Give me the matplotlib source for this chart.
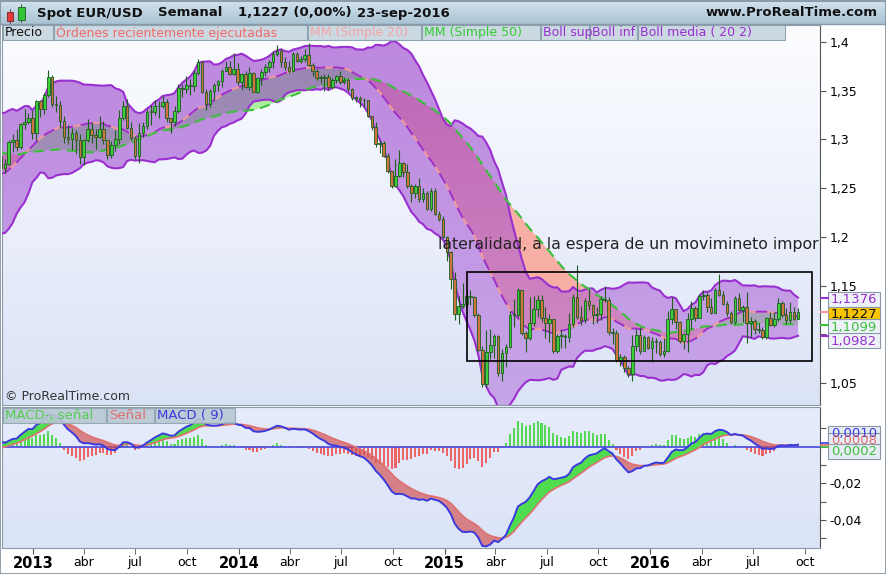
import numpy as np
import pandas as pd
import matplotlib
matplotlib.use("Agg")
import matplotlib.pyplot as plt
import matplotlib.dates as mdates
from matplotlib.colors import LinearSegmentedColormap
from matplotlib.patches import Rectangle

plt.rcParams['font.family'] = ['DejaVu Sans']

# weekly EUR/USD closes before the visible window (only feed the indicators)
warmup_close = [1.339, 1.338, 1.304, 1.305, 1.296,
                1.272, 1.268, 1.293, 1.321, 1.316, 1.319, 1.324, 1.345, 1.320, 1.311, 1.318, 1.323, 1.334,
                1.308, 1.307, 1.322, 1.324, 1.308, 1.292, 1.278, 1.252, 1.243, 1.252, 1.264, 1.257, 1.266,
                1.229, 1.224, 1.216, 1.229, 1.239, 1.229, 1.233, 1.252, 1.258, 1.282, 1.313, 1.298, 1.286,
                1.303, 1.296, 1.302, 1.294, 1.283]

# visible weeks, nov 2012 -> 23 sep 2016
close = [1.271, 1.275, 1.297, 1.299, 1.292, 1.316, 1.318, 1.322,
         # 2013
         1.307, 1.339, 1.331, 1.346, 1.364, 1.336, 1.335, 1.319, 1.302, 1.300, 1.307, 1.299, 1.282,
         1.299, 1.311, 1.305, 1.303, 1.311, 1.299, 1.284, 1.294, 1.300, 1.322, 1.334, 1.312, 1.301,
         1.283, 1.307, 1.314, 1.328, 1.328, 1.334, 1.334, 1.338, 1.322, 1.318, 1.329, 1.353, 1.352,
         1.356, 1.355, 1.368, 1.380, 1.349, 1.336, 1.350, 1.356, 1.360, 1.370, 1.374, 1.367, 1.372,
         # 2014
         1.359, 1.367, 1.354, 1.368, 1.349, 1.363, 1.369, 1.374, 1.380, 1.388, 1.391, 1.379, 1.374,
         1.370, 1.388, 1.381, 1.383, 1.387, 1.376, 1.370, 1.363, 1.363, 1.364, 1.354, 1.361, 1.365,
         1.359, 1.361, 1.352, 1.343, 1.343, 1.341, 1.340, 1.324, 1.313, 1.295, 1.296, 1.283, 1.268,
         1.252, 1.262, 1.276, 1.267, 1.252, 1.245, 1.252, 1.239, 1.245, 1.229, 1.247, 1.223, 1.218,
         # 2015
         1.200, 1.184, 1.157, 1.121, 1.129, 1.131, 1.139, 1.138, 1.120, 1.084, 1.049, 1.082, 1.089,
         1.098, 1.060, 1.081, 1.087, 1.120, 1.120, 1.145, 1.101, 1.096, 1.111, 1.126, 1.135, 1.117,
         1.111, 1.116, 1.083, 1.098, 1.098, 1.097, 1.110, 1.138, 1.118, 1.115, 1.134, 1.130, 1.120,
         1.121, 1.136, 1.135, 1.102, 1.101, 1.074, 1.077, 1.065, 1.059, 1.088, 1.099, 1.083, 1.097,
         # 2016
         1.086, 1.093, 1.092, 1.080, 1.083, 1.116, 1.126, 1.113, 1.093, 1.100, 1.116, 1.127, 1.117,
         1.139, 1.140, 1.128, 1.122, 1.145, 1.140, 1.131, 1.122, 1.113, 1.137, 1.125, 1.128, 1.112,
         1.114, 1.105, 1.104, 1.097, 1.117, 1.109, 1.116, 1.132, 1.120, 1.115, 1.123, 1.116, 1.1227]

high = [1.285, 1.280, 1.299, 1.306, 1.311, 1.317, 1.331, 1.327,
        1.330, 1.340, 1.340, 1.348, 1.371, 1.366, 1.345, 1.339, 1.324, 1.315, 1.312, 1.310, 1.306,
        1.300, 1.321, 1.318, 1.311, 1.324, 1.319, 1.299, 1.298, 1.310, 1.330, 1.339, 1.342, 1.318,
        1.304, 1.317, 1.318, 1.331, 1.335, 1.340, 1.339, 1.345, 1.342, 1.322, 1.334, 1.357, 1.357,
        1.365, 1.362, 1.371, 1.383, 1.381, 1.352, 1.352, 1.358, 1.361, 1.372, 1.381, 1.381, 1.389,
        1.378, 1.368, 1.370, 1.374, 1.369, 1.364, 1.372, 1.377, 1.382, 1.391, 1.397, 1.393, 1.385,
        1.381, 1.390, 1.390, 1.386, 1.393, 1.399, 1.378, 1.372, 1.366, 1.367, 1.367, 1.363, 1.366,
        1.370, 1.364, 1.363, 1.353, 1.345, 1.345, 1.343, 1.340, 1.324, 1.318, 1.299, 1.298, 1.286,
        1.268, 1.280, 1.289, 1.277, 1.275, 1.254, 1.254, 1.260, 1.250, 1.247, 1.250, 1.250, 1.226,
        1.221, 1.201, 1.185, 1.164, 1.139, 1.153, 1.145, 1.145, 1.139, 1.122, 1.088, 1.104, 1.105,
        1.100, 1.099, 1.085, 1.090, 1.124, 1.136, 1.147, 1.145, 1.103, 1.138, 1.139, 1.140, 1.140,
        1.128, 1.121, 1.116, 1.100, 1.104, 1.100, 1.122, 1.141, 1.171, 1.129, 1.137, 1.146, 1.131,
        1.128, 1.139, 1.149, 1.138, 1.106, 1.104, 1.080, 1.079, 1.067, 1.099, 1.105, 1.107, 1.099,
        1.098, 1.097, 1.096, 1.094, 1.096, 1.124, 1.138, 1.126, 1.114, 1.101, 1.122, 1.134, 1.129,
        1.141, 1.145, 1.143, 1.137, 1.147, 1.162, 1.144, 1.134, 1.124, 1.139, 1.142, 1.130, 1.143,
        1.118, 1.116, 1.112, 1.107, 1.118, 1.123, 1.123, 1.137, 1.134, 1.127, 1.133, 1.128, 1.127]

low = [1.268, 1.266, 1.274, 1.287, 1.288, 1.290, 1.311, 1.316,
       1.300, 1.299, 1.323, 1.326, 1.344, 1.333, 1.328, 1.312, 1.296, 1.295, 1.289, 1.285, 1.275,
       1.274, 1.297, 1.296, 1.290, 1.301, 1.295, 1.280, 1.281, 1.288, 1.295, 1.320, 1.311, 1.299,
       1.280, 1.276, 1.302, 1.311, 1.315, 1.325, 1.322, 1.332, 1.318, 1.307, 1.314, 1.327, 1.344,
       1.348, 1.346, 1.350, 1.366, 1.348, 1.330, 1.333, 1.341, 1.350, 1.354, 1.370, 1.366, 1.366,
       1.356, 1.351, 1.353, 1.351, 1.349, 1.348, 1.356, 1.365, 1.369, 1.373, 1.386, 1.374, 1.371,
       1.368, 1.370, 1.380, 1.378, 1.380, 1.375, 1.365, 1.361, 1.358, 1.350, 1.352, 1.352, 1.358,
       1.357, 1.357, 1.350, 1.341, 1.338, 1.333, 1.333, 1.323, 1.310, 1.292, 1.286, 1.282, 1.266,
       1.250, 1.251, 1.261, 1.261, 1.250, 1.236, 1.240, 1.236, 1.236, 1.228, 1.226, 1.222, 1.216,
       1.199, 1.175, 1.146, 1.115, 1.110, 1.127, 1.127, 1.130, 1.118, 1.083, 1.046, 1.046, 1.075,
       1.076, 1.057, 1.052, 1.066, 1.086, 1.107, 1.118, 1.099, 1.082, 1.094, 1.108, 1.118, 1.113,
       1.096, 1.092, 1.081, 1.081, 1.086, 1.086, 1.092, 1.107, 1.116, 1.109, 1.112, 1.125, 1.110,
       1.111, 1.115, 1.133, 1.099, 1.090, 1.071, 1.067, 1.061, 1.056, 1.052, 1.083, 1.080, 1.083,
       1.085, 1.071, 1.081, 1.078, 1.077, 1.082, 1.110, 1.105, 1.091, 1.085, 1.082, 1.105, 1.114,
       1.117, 1.135, 1.123, 1.121, 1.122, 1.139, 1.130, 1.119, 1.110, 1.110, 1.124, 1.113, 1.091,
       1.097, 1.100, 1.101, 1.095, 1.095, 1.108, 1.107, 1.114, 1.118, 1.110, 1.112, 1.115, 1.116]

year_ticks = ['2013-01-01', '2014-01-01', '2015-01-01', '2016-01-01']
year_labels = ['2013', '2014', '2015', '2016']
month_ticks = ['2013-04-01', '2013-07-01', '2013-10-01', '2014-04-01', '2014-07-01', '2014-10-01',
               '2015-04-01', '2015-07-01', '2015-10-01', '2016-04-01', '2016-07-01', '2016-10-01']
month_labels = ['abr', 'jul', 'oct'] * 4
price_ticks = [1.05, 1.1, 1.15, 1.2, 1.25, 1.3, 1.35, 1.4]
price_tick_labels = ['1,05', '', '1,15', '1,2', '1,25', '1,3', '1,35', '1,4']  # 1,1 sits under the value boxes
macd_ticks = [0.01, 0.0, -0.01, -0.02, -0.03, -0.04, -0.05]
macd_tick_labels = ['', '', '', '-0,02', '', '-0,04', '']

# last values shown in the boxes of the price axis
last_labels = ['1,1376', '1,1227', '1,1099', '1,0982']
last_values = [1.1376, 1.1227, 1.1099, 1.0982]
macd_last_labels = ['0,0010', '0,0008', '0,0002']

# comment box drawn on the chart (text is cut by the pane edge in the original)
box_start, box_end = '2015-02-09', '2016-10-14'
box_low, box_high = 1.0725, 1.1639
note = 'lateralidad, a la espera de un movimineto impor'

# ---- indicators ----
weeks = pd.date_range('2011-11-28', periods=len(warmup_close) + len(close), freq='W-MON')
allc = pd.Series(warmup_close + close, index=weeks)
ma20 = allc.rolling(20).mean()
sd20 = allc.rolling(20).std(ddof=0)
b_up = ma20 + 2 * sd20
b_dn = ma20 - 2 * sd20
ma50 = allc.rolling(50).mean()
macd = allc.ewm(span=12, adjust=False).mean() - allc.ewm(span=26, adjust=False).mean()
sig = macd.ewm(span=9, adjust=False).mean()
hist_scale = 1.3
hist = (macd - sig) * hist_scale

n0 = len(warmup_close)
xd = mdates.date2num(weeks[n0:])
c = np.array(close)
o = np.array([warmup_close[-1]] + close[:-1])
h = np.maximum(np.array(high), np.maximum(o, c))
l = np.minimum(np.array(low), np.minimum(o, c))
up_d, dn_d, m20_d, m50_d = [s.values[n0:] for s in (b_up, b_dn, ma20, ma50)]
macd_d, sig_d, hist_d = macd.values[n0:], sig.values[n0:], hist.values[n0:]

W, H = 887, 574
fig = plt.figure(figsize=(W / 100, H / 100), dpi=100, facecolor='white')

def fpos(x0, y0, x1, y1):
    return [x0 / W, 1 - y1 / H, (x1 - x0) / W, (y1 - y0) / H]

ax = fig.add_axes(fpos(2, 25, 820, 405))
ax2 = fig.add_axes(fpos(2, 407, 820, 548))
xlo, xhi = mdates.date2num(pd.Timestamp('2012-11-07')), mdates.date2num(pd.Timestamp('2016-10-28'))
ylo, yhi = 1.0273, 1.4175
mlo, mhi = -0.0552, 0.0215

grad = np.linspace(0, 1, 256).reshape(-1, 1)
ax.imshow(grad, extent=[0, 1, 0, 1], transform=ax.transAxes, aspect='auto', zorder=0,
          cmap=LinearSegmentedColormap.from_list('bg', ['#fcfdff', '#dbe3f6']))
ax2.imshow(grad, extent=[0, 1, 0, 1], transform=ax2.transAxes, aspect='auto', zorder=0,
           cmap=LinearSegmentedColormap.from_list('bg2', ['#e6ecfb', '#dbe3f7']))

# MA20 / MA50 cloud
ax.fill_between(xd, m20_d, m50_d, where=m20_d >= m50_d, interpolate=True, color='#aaf09e', lw=0, zorder=1)
ax.fill_between(xd, m20_d, m50_d, where=m20_d < m50_d, interpolate=True, color='#f7aea5', lw=0, zorder=1)

# bollinger fill, vertical gradient clipped to the band
poly = ax.fill_between(xd, up_d, dn_d, color='none', lw=0)
bpath = poly.get_paths()[0]
bim = ax.imshow(grad, extent=[xlo, xhi, ylo, yhi], origin='lower', aspect='auto', alpha=0.55, zorder=2,
                cmap=LinearSegmentedColormap.from_list('boll', ['#b673de', '#8a25c4']))
bim.set_clip_path(bpath, transform=ax.transData)

ax.plot(xd, up_d, color='#9a2fd0', lw=1.5, zorder=3)
ax.plot(xd, dn_d, color='#9a2fd0', lw=1.5, zorder=3)
ax.plot(xd, m20_d, color='#f29a9a', lw=1.4, zorder=3.5)
ax.plot(xd, m20_d, color='#9a2fd0', lw=1.4, dashes=(6, 4), zorder=3.6)
ax.plot(xd, m50_d, color='#3cbf3c', lw=1.5, dashes=(5, 3), zorder=3.6)

# candles
upc = c >= o
ax.vlines(xd, l, h, color='#1d5e1d', lw=0.8, zorder=4.5)
ax.bar(xd, np.maximum(np.abs(c - o), 0.0008), bottom=np.minimum(o, c), width=4.6,
       color=np.where(upc, '#3ccf3c', '#d0743f'), edgecolor='#1d5e1d', lw=0.6, zorder=5)

ax.add_patch(Rectangle((mdates.date2num(pd.Timestamp(box_start)), box_low),
                       mdates.date2num(pd.Timestamp(box_end)) - mdates.date2num(pd.Timestamp(box_start)),
                       box_high - box_low, fill=False, ec='black', lw=1.2, zorder=6))
ax.text(mdates.date2num(pd.Timestamp('2014-12-21')), 1.192, note, fontsize=11.3, color='#222222',
        ha='left', va='center', zorder=7, clip_on=True)

ax.set_xlim(xlo, xhi)
ax.set_ylim(ylo, yhi)
ax.set_xticks([])
ax.yaxis.tick_right()
ax.set_yticks(price_ticks)
ax.set_yticklabels(price_tick_labels)
ax.tick_params(axis='y', direction='out', length=4, pad=3, labelsize=9, color='#555555')

# MACD pane
ax2.axhline(0, color='#4646e0', lw=1.2, zorder=2)
ax2.bar(xd, hist_d, width=3.6, lw=0, antialiased=False,
        color=np.where(hist_d >= 0, '#55d855', '#ee6464'), zorder=1.5)
ax2.fill_between(xd, macd_d, sig_d, where=macd_d >= sig_d, interpolate=True, color='#4fdc4f', lw=0, zorder=2.5)
ax2.fill_between(xd, macd_d, sig_d, where=macd_d < sig_d, interpolate=True, color='#d24a4a', alpha=0.65,
                 lw=0, zorder=2.5)
ax2.plot(xd, sig_d, color='#e07070', lw=1.2, zorder=3)
ax2.plot(xd, macd_d, color='#3a3adf', lw=1.4, zorder=3.2)
ax2.set_xlim(xlo, xhi)
ax2.set_ylim(mlo, mhi)
ax2.yaxis.tick_right()
ax2.set_yticks(macd_ticks)
ax2.set_yticklabels(macd_tick_labels)
ax2.tick_params(axis='y', direction='out', length=4, pad=3, labelsize=9, color='#555555')
ax2.set_xticks(mdates.date2num(pd.to_datetime(year_ticks)))
ax2.set_xticklabels(year_labels, fontsize=10.5, fontweight='bold')
ax2.set_xticks(mdates.date2num(pd.to_datetime(month_ticks)), minor=True)
ax2.set_xticklabels(month_labels, minor=True, fontsize=9)
ax2.tick_params(axis='x', which='both', direction='out', length=4, pad=2, color='#555555')

for a in (ax, ax2):
    for s in a.spines.values():
        s.set_color('#8a9aa8')
    a.spines['right'].set_color('#555555')

# overlay in pixel coords for header, legends and value boxes
ov = fig.add_axes([0, 0, 1, 1], zorder=10)
ov.axis('off')
ov.imshow(grad, extent=(0, W, 24, 0), aspect='auto',
          cmap=LinearSegmentedColormap.from_list('hd', ['#d3e3ee', '#a9c3d4']))
ov.set_xlim(0, W)
ov.set_ylim(H, 0)
ov.plot([0, W], [24, 24], color='#8a9aa8', lw=1)

# icon
ov.add_patch(Rectangle((7, 12), 6, 9, fc='#e23a3a', ec='#7a1a1a', lw=0.6))
ov.plot([10, 10], [9, 23], color='#7a1a1a', lw=0.6, zorder=0.5)
ov.add_patch(Rectangle((18, 7), 7, 13, fc='#36c536', ec='#1d5e1d', lw=0.6))
ov.plot([21.5, 21.5], [4, 22], color='#1d5e1d', lw=0.6, zorder=0.5)

for x0, txt in [(37, 'Spot EUR/USD'), (158, 'Semanal'), (238, '1,1227 (0,00%)'), (357, '23-sep-2016')]:
    ov.text(x0, 13, txt, fontsize=9.5, fontweight='bold', va='center', ha='left', color='#111111')
ov.text(878, 13, 'www.ProRealTime.com', fontsize=9.5, fontweight='bold', va='center', ha='right', color='#111111')

legend_boxes = [(3, 53, 'Precio', '#111111'), (54, 307, 'Órdenes recientemente ejecutadas', '#f06a6a'),
                (308, 421, 'MM (Simple 20)', '#f4a4a4'), (422, 540, 'MM (Simple 50)', '#33cc33'),
                (541, 589, 'Boll sup', '#9a2fd0'), (590, 637, 'Boll inf', '#9a2fd0'),
                (638, 785, 'Boll media ( 20 2)', '#9a2fd0')]
for x0, x1, txt, col in legend_boxes:
    ov.add_patch(Rectangle((x0, 25), x1 - x0, 15, fc='#ccd9e2', ec='#8fa3b0', lw=0.8))
    ov.text(x0 + 2, 32.8, txt, fontsize=9, color=col, va='center', ha='left')

macd_boxes = [(3, 106, 'MACD-, señal', '#55cc55'), (107, 154, 'Señal', '#e07070'), (155, 235, 'MACD ( 9)', '#3a3adf')]
for x0, x1, txt, col in macd_boxes:
    ov.add_patch(Rectangle((x0, 408), x1 - x0, 15, fc='#b9c8d3', ec='#8fa3b0', lw=0.8, alpha=0.9))
    ov.text(x0 + 2, 415.8, txt, fontsize=9.5, color=col, va='center', ha='left')

ov.text(5, 397, '© ProRealTime.com', fontsize=9, color='#333333', va='center', ha='left')

# value boxes on the price axis
def ypix(v):
    return 25 + (yhi - v) / (yhi - ylo) * 380

mark_cols = ['#9a2fd0', '#f29a9a', '#3cbf3c', '#9a2fd0']
for v, col in zip(last_values, mark_cols):
    ov.plot([821, 828], [ypix(v), ypix(v)], color=col, lw=1.5)
box_centers = [299, 314, 326.5, 340.5]
box_cols = [('#eef2f8', '#9a2fd0'), ('#f8c400', '#111111'), ('#eef2f8', '#3cbf3c'), ('#eef2f8', '#9a2fd0')]
for yc, txt, (fc, tc) in zip(box_centers, last_labels, box_cols):
    ov.add_patch(Rectangle((828, yc - 7.5), 52, 15, fc=fc, ec='#8898a8', lw=0.8))
    ov.text(854, yc + 0.5, txt, fontsize=9.5, color=tc, ha='center', va='center')

for yc, col in zip([443, 445, 447], ['#3a3adf', '#e07070', '#3cbf3c']):
    ov.plot([821, 828], [yc, yc], color=col, lw=1.2)
for yc, txt, tc in zip([433, 440, 451.5], macd_last_labels, ['#3a3adf', '#e07070', '#3cbf3c']):
    ov.add_patch(Rectangle((828, yc - 7.5), 52, 15, fc='#e6ecf4', ec='#8898a8', lw=0.8))
    ov.text(854, yc + 0.5, txt, fontsize=9.5, color=tc, ha='center', va='center')

ov.add_patch(Rectangle((0.5, 0.5), W - 1, H - 1, fill=False, ec='#7f8f9b', lw=1.2))

fig.savefig('out.png', dpi=100)
